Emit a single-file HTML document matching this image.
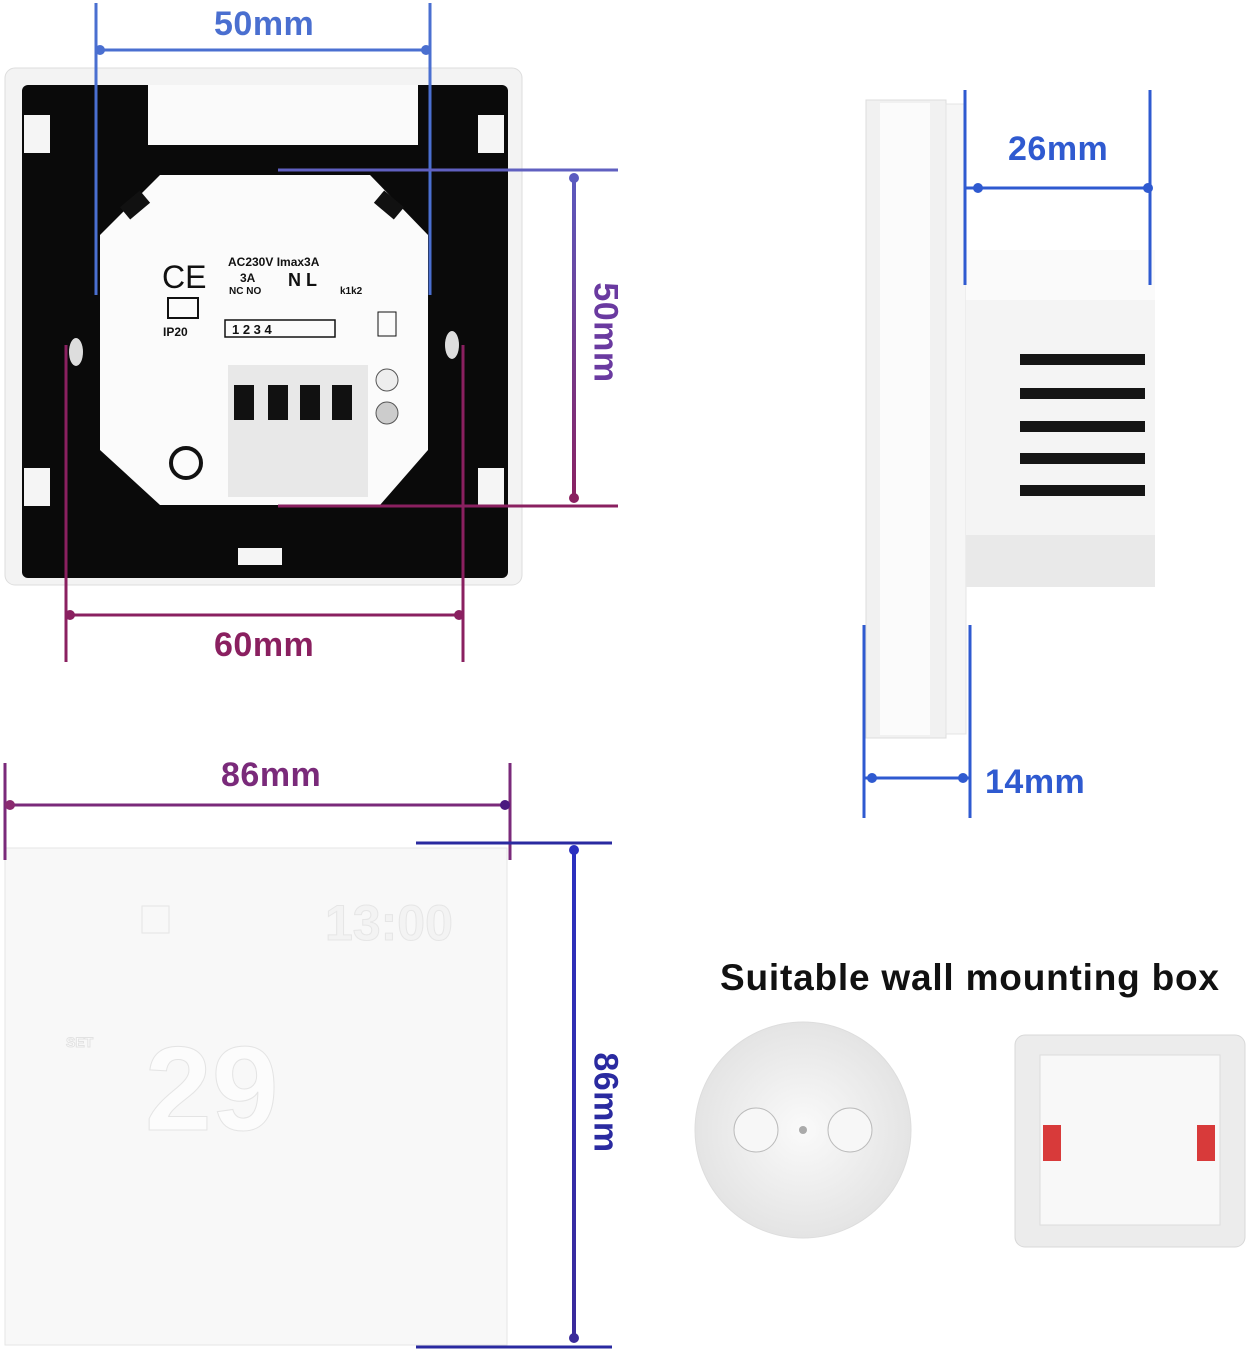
<!DOCTYPE html>
<html><head><meta charset="utf-8"><style>
html,body{margin:0;padding:0;background:#fff;}
body{width:1250px;height:1352px;position:relative;overflow:hidden;font-family:"Liberation Sans",sans-serif;}
.lbl{position:absolute;font-weight:bold;font-size:34px;letter-spacing:0.5px;}
</style></head><body>
<svg width="1250" height="1352" style="position:absolute;left:0;top:0">
<defs>
<linearGradient id="gp" x1="0" y1="0" x2="0" y2="1"><stop offset="0" stop-color="#5a5ac0"/><stop offset="1" stop-color="#8a2060"/></linearGradient>
<linearGradient id="gv" x1="0" y1="0" x2="0" y2="1"><stop offset="0" stop-color="#2a30c0"/><stop offset="1" stop-color="#3a2a9a"/></linearGradient>
<radialGradient id="rb" cx="0.5" cy="0.5" r="0.5"><stop offset="0" stop-color="#fafafa"/><stop offset="1" stop-color="#e4e4e4"/></radialGradient>
</defs>
<!-- back view -->
<rect x="5" y="68" width="517" height="517" rx="10" fill="#f3f3f3" stroke="#ddd"/>
<rect x="22" y="85" width="486" height="493" rx="6" fill="#0a0a0a"/>
<rect x="148" y="85" width="270" height="60" fill="#fafafa"/>
<rect x="238" y="548" width="44" height="17" fill="#f5f5f5"/>
<rect x="24" y="115" width="26" height="38" fill="#f5f5f5"/>
<rect x="478" y="115" width="26" height="38" fill="#f5f5f5"/>
<rect x="24" y="468" width="26" height="38" fill="#f5f5f5"/>
<rect x="478" y="468" width="26" height="38" fill="#f5f5f5"/>
<ellipse cx="76" cy="352" rx="7" ry="14" fill="#ddd"/>
<ellipse cx="452" cy="345" rx="7" ry="14" fill="#ddd"/>
<polygon points="160,175 370,175 428,235 428,450 380,505 160,505 100,450 100,235" fill="#fbfbfb"/>
<rect x="228" y="365" width="140" height="132" fill="#e8e8e8"/>
<rect x="234" y="385" width="20" height="35" fill="#111"/><rect x="268" y="385" width="20" height="35" fill="#111"/>
<rect x="300" y="385" width="20" height="35" fill="#111"/><rect x="332" y="385" width="20" height="35" fill="#111"/>
<circle cx="387" cy="380" r="11" fill="#eee" stroke="#555"/><circle cx="387" cy="413" r="11" fill="#ccc" stroke="#555"/>
<circle cx="186" cy="463" r="15" fill="none" stroke="#111" stroke-width="4"/>
<rect x="122" y="197" width="26" height="16" fill="#111" transform="rotate(-40 135 205)"/>
<rect x="376" y="197" width="26" height="16" fill="#111" transform="rotate(40 389 205)"/>
<text x="162" y="288" font-size="32" font-family="Liberation Sans" fill="#111">CE</text>
<rect x="168" y="298" width="30" height="20" fill="none" stroke="#111" stroke-width="2"/>
<text x="163" y="336" font-size="12" font-weight="bold" fill="#111">IP20</text>
<text x="228" y="266" font-size="12" font-weight="bold" fill="#111">AC230V Imax3A</text>
<text x="240" y="282" font-size="12" font-weight="bold" fill="#111">3A</text>
<text x="288" y="286" font-size="18" font-weight="bold" fill="#111">N L</text>
<text x="229" y="294" font-size="10" font-weight="bold" fill="#111">NC NO</text>
<text x="340" y="294" font-size="10" font-weight="bold" fill="#111">k1k2</text>
<rect x="225" y="320" width="110" height="17" fill="none" stroke="#111" stroke-width="1.5"/>
<text x="232" y="334" font-size="13" font-weight="bold" fill="#111">1  2  3  4</text>
<rect x="378" y="312" width="18" height="24" fill="none" stroke="#111"/>
<!-- dims back -->
<g stroke="#4a6fd0" stroke-width="3"><line x1="96" y1="3" x2="96" y2="295"/><line x1="430" y1="3" x2="430" y2="295"/><line x1="96" y1="50" x2="430" y2="50"/></g>
<circle cx="100" cy="50" r="5" fill="#4a6fd0"/><circle cx="426" cy="50" r="5" fill="#4a6fd0"/>
<line x1="278" y1="170" x2="618" y2="170" stroke="#6060c0" stroke-width="3"/>
<line x1="278" y1="506" x2="618" y2="506" stroke="#8a2060" stroke-width="3"/>
<rect x="572" y="174" width="4" height="328" fill="url(#gp)"/>
<circle cx="574" cy="178" r="5" fill="#5a5ac0"/><circle cx="574" cy="498" r="5" fill="#8a2060"/>
<g stroke="#8a2060" stroke-width="3"><line x1="66" y1="345" x2="66" y2="662"/><line x1="463" y1="345" x2="463" y2="662"/><line x1="66" y1="615" x2="463" y2="615"/></g>
<circle cx="70" cy="615" r="5" fill="#8a2060"/><circle cx="459" cy="615" r="5" fill="#8a2060"/>
<!-- side view -->
<rect x="866" y="100" width="80" height="638" fill="#f1f1f1" stroke="#ddd"/>
<rect x="880" y="103" width="50" height="632" fill="#fbfbfb"/>
<rect x="946" y="104" width="20" height="630" fill="#f6f6f6" stroke="#e4e4e4"/>
<rect x="966" y="250" width="189" height="337" fill="#f4f4f4"/>
<rect x="966" y="250" width="189" height="50" fill="#fafafa"/>
<rect x="966" y="535" width="189" height="52" fill="#e9e9e9"/>
<g fill="#151515"><rect x="1020" y="354" width="125" height="11"/><rect x="1020" y="388" width="125" height="11"/><rect x="1020" y="421" width="125" height="11"/><rect x="1020" y="453" width="125" height="11"/><rect x="1020" y="485" width="125" height="11"/></g>
<g stroke="#2f5ad0" stroke-width="3"><line x1="965" y1="90" x2="965" y2="285"/><line x1="1150" y1="90" x2="1150" y2="285"/><line x1="965" y1="188" x2="1150" y2="188"/>
<line x1="864" y1="625" x2="864" y2="818"/><line x1="970" y1="625" x2="970" y2="818"/><line x1="864" y1="778" x2="970" y2="778"/></g>
<circle cx="978" cy="188" r="5" fill="#2f5ad0"/><circle cx="1148" cy="188" r="5" fill="#2f5ad0"/>
<circle cx="872" cy="778" r="5" fill="#2f5ad0"/><circle cx="963" cy="778" r="5" fill="#2f5ad0"/>
<!-- front -->
<rect x="5" y="848" width="502" height="497" fill="#f8f8f8" stroke="#e6e6e6"/>
<text x="325" y="940" font-size="50" font-weight="bold" fill="#f3f3f3" stroke="#e6e6e6">13:00</text>
<text x="145" y="1130" font-size="120" font-weight="bold" fill="#fcfcfc" stroke="#e4e4e4">29</text>
<text x="66" y="1047" font-size="14" font-weight="bold" fill="#fff" stroke="#e2e2e2">SET</text>
<rect x="142" y="906" width="27" height="27" fill="none" stroke="#e5e5e5"/>
<g stroke="#7a2a7a" stroke-width="3"><line x1="5" y1="763" x2="5" y2="860"/><line x1="510" y1="763" x2="510" y2="860"/><line x1="5" y1="805" x2="510" y2="805"/></g>
<circle cx="10" cy="805" r="5" fill="#8a2a70"/><circle cx="505" cy="805" r="5" fill="#4a1a80"/>
<g stroke="#2a2aa0" stroke-width="3"><line x1="416" y1="843" x2="612" y2="843"/><line x1="416" y1="1347" x2="612" y2="1347"/></g>
<rect x="572" y="846" width="4" height="496" fill="url(#gv)"/>
<circle cx="574" cy="850" r="5" fill="#2a30c0"/><circle cx="574" cy="1338" r="5" fill="#3a2a9a"/>
<!-- boxes -->
<circle cx="803" cy="1130" r="108" fill="url(#rb)" stroke="#ddd"/>
<circle cx="756" cy="1130" r="22" fill="#f7f7f7" stroke="#bbb"/><circle cx="850" cy="1130" r="22" fill="#f7f7f7" stroke="#bbb"/>
<circle cx="803" cy="1130" r="4" fill="#aaa"/>
<rect x="1015" y="1035" width="230" height="212" rx="10" fill="#ececec" stroke="#d8d8d8"/>
<rect x="1040" y="1055" width="180" height="170" fill="#f8f8f8" stroke="#ddd"/>
<rect x="1043" y="1125" width="18" height="36" fill="#d83a3a"/><rect x="1197" y="1125" width="18" height="36" fill="#d83a3a"/>
</svg>
<div class="lbl" style="left:214px;top:5px;color:#4a6fd0">50mm</div>
<div class="lbl" style="left:214px;top:626px;color:#8a2060">60mm</div>
<div class="lbl" style="left:1008px;top:130px;color:#2f5ad0">26mm</div>
<div class="lbl" style="left:985px;top:763px;color:#2f5ad0">14mm</div>
<div class="lbl" style="left:221px;top:756px;color:#7a2a7a">86mm</div>
<div class="lbl" style="left:550px;top:313px;color:#6a3aa0;transform:rotate(90deg);transform-origin:center;width:110px;text-align:center">50mm</div>
<div class="lbl" style="left:550px;top:1083px;color:#2a2aa0;transform:rotate(90deg);transform-origin:center;width:110px;text-align:center">86mm</div>
<div style="position:absolute;left:720px;top:957px;font-size:37px;font-weight:bold;color:#111;letter-spacing:0.8px;white-space:nowrap">Suitable wall mounting box</div>
</body></html>
